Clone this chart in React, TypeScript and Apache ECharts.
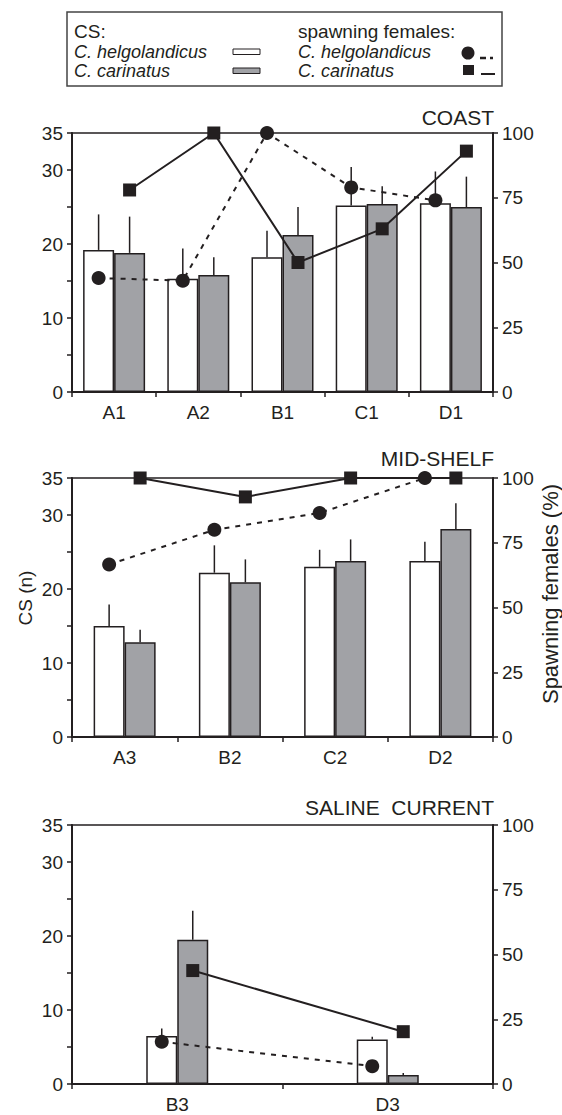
import React, { useEffect, useRef } from "react";
import * as echarts from "echarts";

// ---------- DATA ----------
const coastCategories = ["A1", "A2", "B1", "C1", "D1"];
const coastHelgoCS = [19.2, 15.3, 18.2, 25.2, 25.5];
const coastHelgoSD = [4.8, 4.1, 3.6, 5.2, 4.3];
const coastCarinCS = [18.8, 15.8, 21.2, 25.4, 25.0];
const coastCarinSD = [4.9, 2.4, 3.8, 2.4, 4.1];
const coastHelgoSpawn = [44, 43, 100, 79, 74];
const coastCarinSpawn = [78, 100, 50, 63, 93];

const shelfCategories = ["A3", "B2", "C2", "D2"];
const shelfHelgoCS = [15.0, 22.2, 23.0, 23.8];
const shelfHelgoSD = [2.9, 3.7, 2.3, 2.6];
const shelfCarinCS = [12.8, 20.9, 23.8, 28.1];
const shelfCarinSD = [1.7, 3.1, 2.9, 3.5];
const shelfHelgoSpawn = [66.6, 80, 86.5, 100];
const shelfCarinSpawn = [100, 92.7, 100, 100];

const salineCategories = ["B3", "D3"];
const salineHelgoCS = [6.5, 6.0];
const salineHelgoSD = [1.0, 0.4];
const salineCarinCS = [19.5, 1.2];
const salineCarinSD = [3.9, 0.3];
const salineHelgoSpawn = [16.3, 6.9];
const salineCarinSpawn = [43.8, 20.2];

const panelTitles = ["COAST", "MID-SHELF", "SALINE  CURRENT"];
const csLabelledTicks = [0, 10, 20, 30, 35];
const csMax = 35;
const csInterval = 5;
const spawnMax = 100;
const spawnInterval = 25;

// ---------- STYLE / LAYOUT ----------
const INK = "#231f20";
const GREY = "#a1a2a6";
const FONT = "'Liberation Sans', Arial, Helvetica, sans-serif";
const GRID_LEFT = 72;
const GRID_WIDTH = 421;
const GRID_HEIGHT = 259;
const GRID_TOPS = [133, 478, 825];
const BAR_W = 31;

export default function App() {
  const ref = useRef<HTMLDivElement>(null);

  useEffect(() => {
    document.body.style.margin = "0";
    if (!ref.current) return;
    const chart = echarts.init(ref.current, undefined, { renderer: "svg" });

    const panels = [
      { cats: coastCategories, hCS: coastHelgoCS, hSD: coastHelgoSD, cCS: coastCarinCS, cSD: coastCarinSD, hSp: coastHelgoSpawn, cSp: coastCarinSpawn },
      { cats: shelfCategories, hCS: shelfHelgoCS, hSD: shelfHelgoSD, cCS: shelfCarinCS, cSD: shelfCarinSD, hSp: shelfHelgoSpawn, cSp: shelfCarinSpawn },
      { cats: salineCategories, hCS: salineHelgoCS, hSD: salineHelgoSD, cCS: salineCarinCS, cSD: salineCarinSD, hSp: salineHelgoSpawn, cSp: salineCarinSpawn },
    ];

    const grid: any[] = [];
    const xAxis: any[] = [];
    const yAxis: any[] = [];
    const series: any[] = [];

    const errSeries = (k: number, vals: number[], sds: number[], offset: number) => ({
      type: "custom",
      xAxisIndex: 2 * k,
      yAxisIndex: 2 * k,
      z: 3,
      silent: true,
      data: vals.map((v, i) => [i, v, sds[i]]),
      encode: { x: 0, y: 1 },
      renderItem: (params: any, api: any) => {
        const idx = api.value(0);
        const v = api.value(1);
        const sd = api.value(2);
        const p0 = api.coord([idx, v]);
        const p1 = api.coord([idx, v + sd]);
        const x = p0[0] + offset;
        return {
          type: "line",
          shape: { x1: x, y1: p0[1], x2: x, y2: p1[1] },
          style: { stroke: INK, lineWidth: 1.5 },
        };
      },
    });

    panels.forEach((p, k) => {
      const n = p.cats.length;
      const off = BAR_W / 2 / (GRID_WIDTH / n);
      grid.push({
        left: GRID_LEFT,
        top: GRID_TOPS[k],
        width: GRID_WIDTH,
        height: GRID_HEIGHT,
        show: true,
        borderColor: INK,
        borderWidth: 1.5,
        backgroundColor: "transparent",
      });
      xAxis.push({
        type: "category",
        gridIndex: k,
        data: p.cats,
        position: "bottom",
        axisLine: { show: true, onZero: false, lineStyle: { color: INK, width: 2 } },
        axisTick: { show: true, inside: false, length: 5, alignWithLabel: false, lineStyle: { color: INK, width: 1.5 } },
        axisLabel: { color: INK, fontSize: 19, fontFamily: FONT, margin: 11, interval: 0 },
        splitLine: { show: false },
      });
      xAxis.push({
        type: "value",
        gridIndex: k,
        min: -0.5,
        max: n - 0.5,
        show: false,
        axisLine: { show: false, onZero: false },
        splitLine: { show: false },
      });
      yAxis.push({
        type: "value",
        gridIndex: k,
        position: "left",
        min: 0,
        max: csMax,
        interval: csInterval,
        axisLine: { show: true, onZero: false, lineStyle: { color: INK, width: 2 } },
        axisTick: { show: true, inside: false, length: 5, lineStyle: { color: INK, width: 1.5 } },
        axisLabel: {
          color: INK,
          fontSize: 19,
          fontFamily: FONT,
          margin: 9,
          showMaxLabel: true,
          formatter: (v: number) => (csLabelledTicks.includes(v) ? String(v) : ""),
        },
        splitLine: { show: false },
      });
      yAxis.push({
        type: "value",
        gridIndex: k,
        position: "right",
        min: 0,
        max: spawnMax,
        interval: spawnInterval,
        axisLine: { show: true, onZero: false, lineStyle: { color: INK, width: 2 } },
        axisTick: { show: true, inside: false, length: 5, lineStyle: { color: INK, width: 1.5 } },
        axisLabel: { color: INK, fontSize: 19, fontFamily: FONT, margin: 9 },
        splitLine: { show: false },
      });

      series.push({
        name: "CS C. helgolandicus",
        type: "bar",
        xAxisIndex: 2 * k,
        yAxisIndex: 2 * k,
        barWidth: BAR_W,
        barGap: "0%",
        z: 2,
        itemStyle: { color: "#ffffff", borderColor: INK, borderWidth: 1.5 },
        data: p.hCS,
      });
      series.push({
        name: "CS C. carinatus",
        type: "bar",
        xAxisIndex: 2 * k,
        yAxisIndex: 2 * k,
        barWidth: BAR_W,
        barGap: "0%",
        z: 2,
        itemStyle: { color: GREY, borderColor: INK, borderWidth: 1.5 },
        data: p.cCS,
      });
      series.push(errSeries(k, p.hCS, p.hSD, -BAR_W / 2));
      series.push(errSeries(k, p.cCS, p.cSD, BAR_W / 2));
      series.push({
        name: "spawning C. helgolandicus",
        type: "line",
        xAxisIndex: 2 * k + 1,
        yAxisIndex: 2 * k + 1,
        z: 5,
        clip: false,
        symbol: "circle",
        symbolSize: 14,
        itemStyle: { color: INK },
        lineStyle: { color: INK, width: 2, type: [5, 6] },
        data: p.hSp.map((v, i) => [i - off, v]),
      });
      series.push({
        name: "spawning C. carinatus",
        type: "line",
        xAxisIndex: 2 * k + 1,
        yAxisIndex: 2 * k + 1,
        z: 5,
        clip: false,
        symbol: "rect",
        symbolSize: 13,
        itemStyle: { color: INK },
        lineStyle: { color: INK, width: 2 },
        data: p.cSp.map((v, i) => [i + off, v]),
      });
    });

    const txt = (text: string, x: number, y: number, size: number, extra: any = {}) => ({
      type: "text",
      x,
      y,
      silent: true,
      style: {
        text,
        x: 0,
        y: 0,
        fill: INK,
        fontSize: size,
        fontFamily: FONT,
        align: "left",
        verticalAlign: "middle",
        ...extra,
      },
    });

    const titleYs = [117, 458, 807];
    const graphic: any[] = [
      // legend box
      {
        type: "rect",
        silent: true,
        shape: { x: 67, y: 12, width: 435, height: 74 },
        style: { fill: "#fff", stroke: "#444", lineWidth: 1.5 },
      },
      txt("CS:", 74, 31, 19),
      txt("C. helgolandicus", 74, 52, 18, { fontStyle: "italic" }),
      txt("C. carinatus", 74, 71, 18, { fontStyle: "italic" }),
      {
        type: "rect",
        silent: true,
        shape: { x: 233, y: 49, width: 27, height: 5.5 },
        style: { fill: "#fff", stroke: INK, lineWidth: 1 },
      },
      {
        type: "rect",
        silent: true,
        shape: { x: 233, y: 68, width: 27, height: 5.5 },
        style: { fill: GREY, stroke: INK, lineWidth: 1 },
      },
      txt("spawning females:", 298, 31, 19),
      txt("C. helgolandicus", 298, 52, 18, { fontStyle: "italic" }),
      txt("C. carinatus", 298, 71, 18, { fontStyle: "italic" }),
      { type: "circle", silent: true, shape: { cx: 468, cy: 53, r: 6.5 }, style: { fill: INK } },
      {
        type: "line",
        silent: true,
        shape: { x1: 480, y1: 58, x2: 493, y2: 58 },
        style: { stroke: INK, lineWidth: 2.5, lineDash: [6, 4] },
      },
      { type: "rect", silent: true, shape: { x: 463, y: 65, width: 11, height: 10 }, style: { fill: INK } },
      {
        type: "line",
        silent: true,
        shape: { x1: 481, y1: 74, x2: 495, y2: 74 },
        style: { stroke: INK, lineWidth: 2 },
      },
      // axis titles
      {
        type: "text",
        x: 25,
        y: 598,
        rotation: Math.PI / 2,
        silent: true,
        style: { text: "CS (n)", x: 0, y: 0, fill: INK, fontSize: 19, fontFamily: FONT, align: "center", verticalAlign: "middle" },
      },
      {
        type: "text",
        x: 550,
        y: 594,
        rotation: Math.PI / 2,
        silent: true,
        style: { text: "Spawning females (%)", x: 0, y: 0, fill: INK, fontSize: 22, fontFamily: FONT, align: "center", verticalAlign: "middle" },
      },
    ];
    panelTitles.forEach((t, k) => {
      graphic.push(txt(t, 494, titleYs[k], 21, { align: "right" }));
    });

    chart.setOption({
      animation: false,
      backgroundColor: "#ffffff",
      textStyle: { fontFamily: FONT },
      grid,
      xAxis,
      yAxis,
      series,
      graphic,
    });

    return () => chart.dispose();
  }, []);

  return <div ref={ref} style={{ width: 562, height: 1115 }} />;
}
